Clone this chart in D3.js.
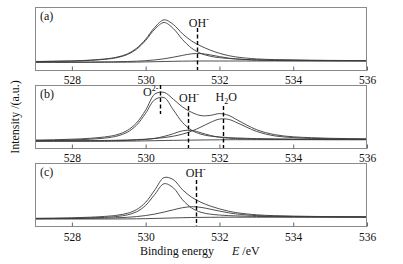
<!DOCTYPE html>
<html><head><meta charset="utf-8">
<script src="https://cdn.jsdelivr.net/npm/d3@7"></script>
<style>
body{margin:0;background:#fff}
svg{display:block}
text{font-family:"Liberation Serif","Times New Roman",serif;fill:#111}
</style>
</head><body>
<svg id="chart" width="403" height="264"></svg>
<script>
// ---- data (binding energy in eV, intensity in arbitrary units) ----
const energy = [527,527.5,528,528.5,529,529.25,529.5,529.75,530,530.25,530.5,530.75,531,531.25,531.5,531.75,532,532.25,532.5,533,533.5,534,534.5,535,535.5,536];
const xTicks = [528,530,532,534,536];
const panelLabels = ["(a)","(b)","(c)"];

// panel (a)
const aBackground = [7.7,7.7,7.7,7.7,7.75,7.8,7.85,7.95,8.1,8.3,8.5,8.7,8.85,8.95,9.0,9.0,9.0,9.0,9.0,9.0,9.0,9.0,9.0,9.0,9.0,9.0];
const aO2  = [8.4,8.6,8.9,9.6,11.1,12.6,15.4,20.7,29.6,41.0,47.5,41.4,30.4,21.7,16.5,13.8,12.3,11.5,10.9,10.2,9.9,9.7,9.5,9.4,9.3,9.3];
const aOH  = [7.8,7.9,7.9,8.0,8.2,8.3,8.5,8.8,9.3,10.1,11.2,12.8,14.6,16.2,16.4,15.1,13.4,11.9,10.9,9.9,9.5,9.4,9.3,9.2,9.2,9.1];
const aEnvelope = [8.5,8.8,9.1,9.9,11.5,13.1,16.0,21.6,30.8,42.8,50.2,45.5,36.2,28.9,23.9,19.9,16.7,14.4,12.8,11.1,10.4,10.1,9.8,9.6,9.5,9.4];
const aPeakEnergy = [531.4];
const aPeakName = ["OH-"];

// panel (b)
const bBackground = [6.8,6.8,6.8,6.8,6.8,6.85,6.9,7.0,7.15,7.3,7.5,7.65,7.8,7.9,8.0,8.1,8.2,8.25,8.3,8.3,8.3,8.3,8.3,8.3,8.3,8.3];
const bO2  = [7.5,7.7,8.1,8.8,10.4,12.2,15.7,22.7,34.8,48.4,50.4,38.1,25.5,17.7,13.8,11.9,11.0,10.4,10.0,9.4,9.1,8.9,8.8,8.7,8.6,8.6];
const bOH  = [6.9,7.0,7.0,7.1,7.2,7.4,7.6,8.0,8.6,9.7,11.6,14.3,17.2,17.6,15.2,12.6,10.8,9.8,9.4,8.9,8.7,8.6,8.5,8.4,8.4,8.4];
const bH2O = [7.1,7.2,7.3,7.4,7.6,7.8,8.0,8.4,8.8,9.5,10.4,11.8,13.9,16.9,21.0,25.5,28.9,28.6,24.9,16.7,12.1,10.4,9.6,9.2,9.0,8.8];
const bEnvelope = [7.9,8.2,8.8,9.7,11.6,13.6,17.5,25.0,37.9,54.0,55.6,48.8,41.0,35.6,32.4,32.6,34.4,32.6,27.7,18.4,13.3,11.2,10.3,9.7,9.4,9.2];
const bPeakEnergy = [530.4,531.15,532.1];
const bPeakName = ["O2-","OH-","H2O"];

// panel (c)
const cBackground = [7.0,7.0,7.0,7.0,7.0,7.05,7.1,7.2,7.35,7.55,7.8,8.05,8.3,8.5,8.6,8.7,8.75,8.8,8.8,8.8,8.8,8.8,8.8,8.8,8.8,8.8];
const cO2  = [7.4,7.5,7.7,8.1,8.9,9.65,11.1,14.1,20.65,31.75,42.3,38.15,26.2,17.9,13.7,11.85,10.95,10.4,10.05,9.6,9.35,9.2,9.1,9.05,9.0,8.95];
const cOH  = [7.3,7.4,7.5,7.7,8.0,8.3,8.7,9.4,10.45,11.95,13.95,16.2,18.3,19.3,18.6,16.85,14.9,13.2,11.9,10.4,9.8,9.5,9.3,9.2,9.1,9.0];
const cEnvelope = [7.7,7.9,8.2,8.8,9.9,10.9,12.7,16.3,23.75,36.15,48.45,46.3,36.2,28.7,23.7,20.0,17.1,14.8,13.15,11.2,10.3,9.9,9.6,9.4,9.3,9.2];
const cPeakEnergy = [531.37];
const cPeakName = ["OH-"];

// ---- layout ----
const svg = d3.select("#chart");
const L = 35, R = 367, PH = 63;
const x = d3.scaleLinear().domain([527,536]).range([L,R]);

const panels = [
  {top:7,   series:[aBackground,aOH,aO2,aEnvelope], peaks:aPeakEnergy, names:aPeakName, pad:5,
   marks:[{lt:21, lb:PH, anchor:"middle", dx:1.5, ty:19.5}]},
  {top:85,  series:[bBackground,bOH,bH2O,bO2,bEnvelope], peaks:bPeakEnergy, names:bPeakName, pad:5,
   marks:[{lt:0, lb:29, anchor:"end", dx:-2, ty:11},
          {lt:21, lb:PH, anchor:"middle", dx:1, ty:17},
          {lt:21, lb:PH, anchor:"middle", dx:3, ty:16}]},
  {top:163, series:[cBackground,cOH,cO2,cEnvelope], peaks:cPeakEnergy, names:cPeakName, pad:6,
   marks:[{lt:17, lb:PH, anchor:"middle", dx:-0.5, ty:14}]}
];

function chemLabel(sel, name){
  if(name==="OH-"){ sel.append("tspan").text("OH"); sel.append("tspan").attr("dy",-5).attr("font-size",8).text("-"); }
  else if(name==="O2-"){ sel.append("tspan").text("O"); sel.append("tspan").attr("dy",-5).attr("font-size",8).text("2-"); }
  else if(name==="H2O"){ sel.append("tspan").text("H"); sel.append("tspan").attr("dy",3).attr("font-size",8).text("2"); sel.append("tspan").attr("dy",-3).text("O"); }
  else sel.text(name);
}

panels.forEach((p,pi)=>{
  const y = d3.scaleLinear().domain([0,PH]).range([p.top+PH, p.top]);
  const g = svg.append("g");
  const cid = "clip"+pi;
  g.append("clipPath").attr("id",cid).append("rect")
    .attr("x",L).attr("y",p.top).attr("width",R-L).attr("height",PH);

  // curves
  const line = d3.line().x((d,i)=>x(energy[i])).y(d=>y(d)).curve(d3.curveCatmullRom);
  g.append("g").attr("clip-path",`url(#${cid})`).selectAll("path").data(p.series).join("path")
    .attr("d",line).attr("fill","none").attr("stroke","#3a3a3a").attr("stroke-width",0.9);

  // frame
  g.append("rect").attr("x",L+0.5).attr("y",p.top+0.5).attr("width",R-L-1).attr("height",PH)
    .attr("fill","none").attr("stroke","#8a8a8a").attr("stroke-width",1);

  // axis
  const ax = d3.axisBottom(x).tickValues(xTicks).tickSize(-4).tickSizeOuter(0).tickPadding(p.pad).tickFormat(d3.format("d"));
  const ag = g.append("g").attr("transform",`translate(0,${p.top+PH+0.5})`).call(ax);
  ag.select(".domain").remove();
  ag.selectAll(".tick line").attr("stroke","#666");
  ag.selectAll(".tick text").attr("font-family","Liberation Serif, serif").attr("font-size",11.5).attr("fill","#111");

  // peak markers
  p.peaks.forEach((e,k)=>{
    const m = p.marks[k];
    const xp = Math.round(x(e))+0.5;
    g.append("line").attr("x1",xp).attr("x2",xp)
      .attr("y1",p.top+m.lt).attr("y2",p.top+m.lb)
      .attr("stroke","#000").attr("stroke-width",1.4).attr("stroke-dasharray","4,2.5");
    const t = g.append("text").attr("x",x(e)+m.dx).attr("y",p.top+m.ty)
      .attr("text-anchor",m.anchor).attr("font-size",12);
    chemLabel(t, p.names[k]);
  });

  // panel letter
  g.append("text").attr("x",40).attr("y",p.top+13).attr("font-size",12).text(panelLabels[pi]);
});

// axis titles
svg.append("text").attr("transform","translate(19,117) rotate(-90)")
  .attr("text-anchor","middle").attr("font-size",12).text("Intensity /(a.u.)");
const xt = svg.append("text").attr("x",140).attr("y",255).attr("font-size",12);
xt.append("tspan").text("Binding energy");
xt.append("tspan").attr("x",232).attr("font-style","italic").text("E");
xt.append("tspan").text(" /eV");
</script>
</body></html>
